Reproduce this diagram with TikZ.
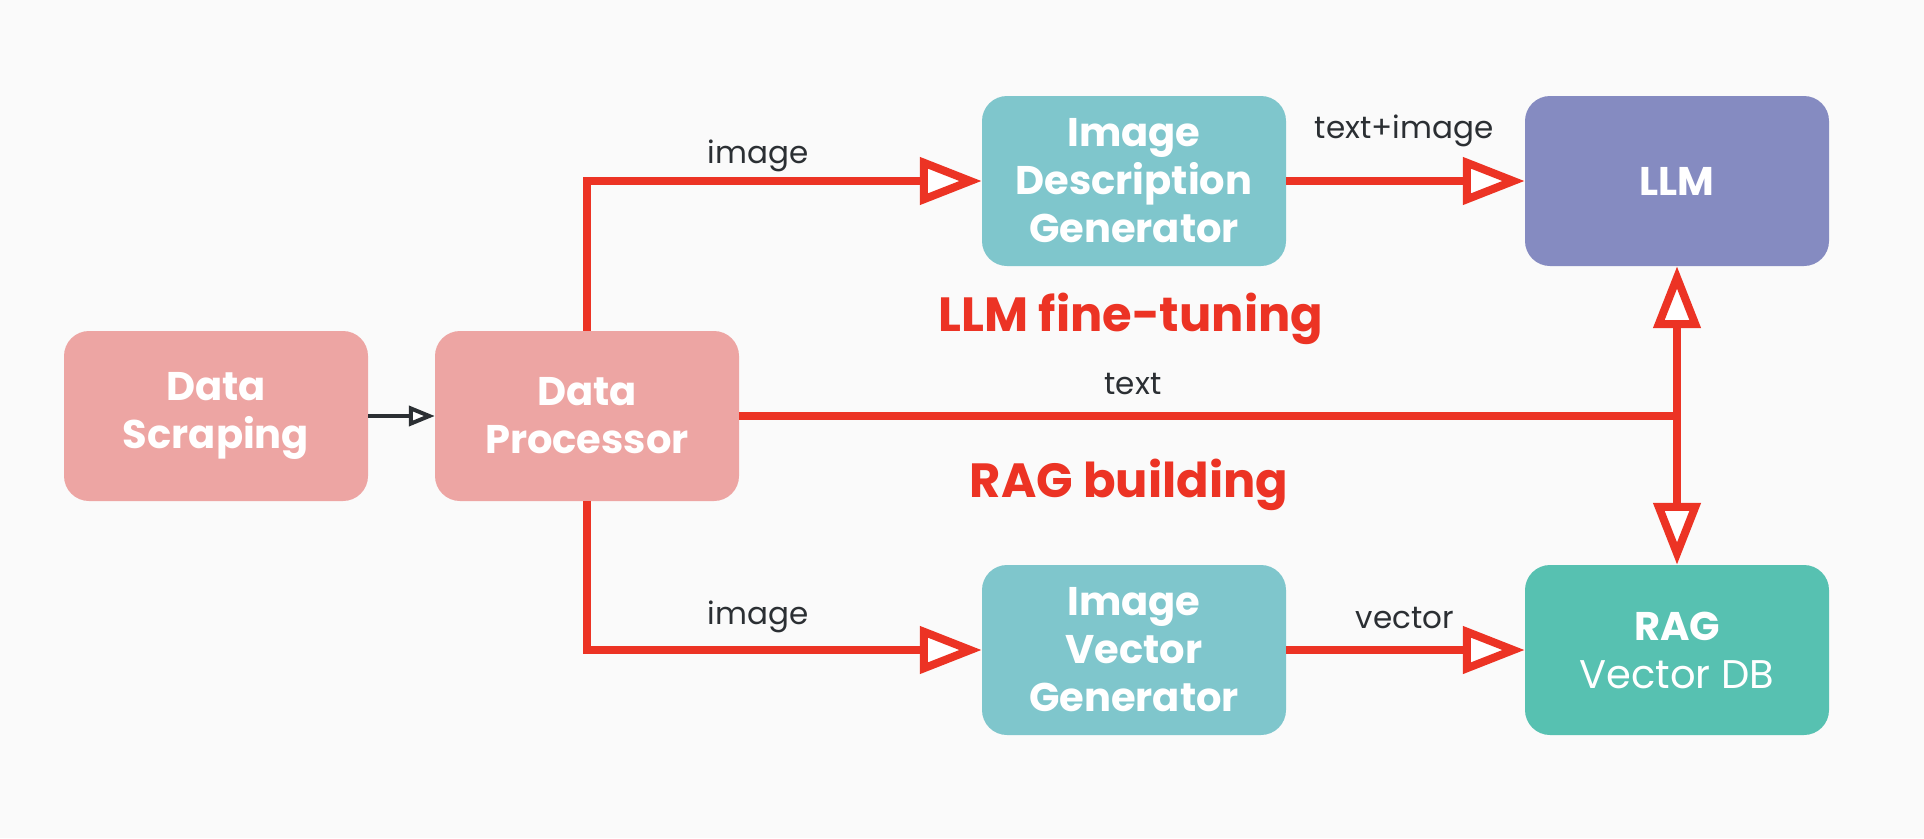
\documentclass[tikz,border=0pt]{standalone}
\usepackage{fontspec}
\setmainfont{Poppins}
\usetikzlibrary{arrows.meta}
\definecolor{bgc}{HTML}{FAFAFA}
\definecolor{pinkc}{HTML}{EDA5A3}
\definecolor{tealc}{HTML}{7FC6CC}
\definecolor{purplec}{HTML}{858BC1}
\definecolor{greenc}{HTML}{57C1B1}
\definecolor{redc}{HTML}{EC3324}
\definecolor{darkc}{HTML}{2B2F33}
\begin{document}
\begin{tikzpicture}[x=1pt,y=-1pt,
  box/.style={rounded corners=25pt, minimum width=304pt, minimum height=170pt, inner sep=0pt, align=center, text=white, font=\fontsize{40}{48}\selectfont\bfseries},
  lbl/.style={text=darkc, font=\fontsize{31}{36}\selectfont, inner sep=0pt},
  hdr/.style={text=redc, font=\fontsize{48}{54}\selectfont\bfseries, inner sep=0pt},
  redline/.style={draw=redc, line width=8pt},
  redarrow/.style={redline, -{Triangle[fill=white, length=62pt, width=46pt]}},
  blkarrow/.style={draw=darkc, line width=4pt, -{Triangle[fill=white, length=26pt, width=20pt]}}]
\fill[bgc] (0,0) rectangle (1924,838);
\node[box, fill=pinkc] (ds) at (216,416) {Data\\Scraping};
\node[box, fill=pinkc] (dp) at (587,416) {Data\\Processor};
\node[box, fill=tealc] (idg) at (1134,181) {Image\\Description\\Generator};
\node[box, fill=purplec] (llm) at (1677,181) {LLM};
\node[box, fill=tealc] (ivg) at (1134,650) {Image\\Vector\\Generator};
\node[box, fill=greenc] (rag) at (1677,650) {RAG\\{\mdseries Vector DB}};
\coordinate (j) at (1677,416);
\draw[blkarrow] (ds.east) -- (dp.west);
\draw[redarrow] (dp.north) |- (idg.west);
\draw[redarrow] (dp.south) |- (ivg.west);
\draw[redarrow] (idg.east) -- (llm.west);
\draw[redarrow] (ivg.east) -- (rag.west);
\draw[redline] (dp.east) -- (j);
\draw[redline, {Triangle[fill=white, length=62pt, width=46pt]}-{Triangle[fill=white, length=62pt, width=46pt]}] (llm.south) -- (rag.north);
\node[lbl] (l1) at (758,156) {image};
\node[lbl] (l2) at (758,617) {image};
\node[lbl] (l3) at (1404,131) {text+image};
\node[lbl] (l4) at (1405,618) {vector};
\node[lbl] (l5) at (1133,384) {text};
\node[hdr] (h1) at (1131,319) {LLM fine-tuning};
\node[hdr] (h2) at (1129,485) {RAG building};
\end{tikzpicture}
\end{document}
